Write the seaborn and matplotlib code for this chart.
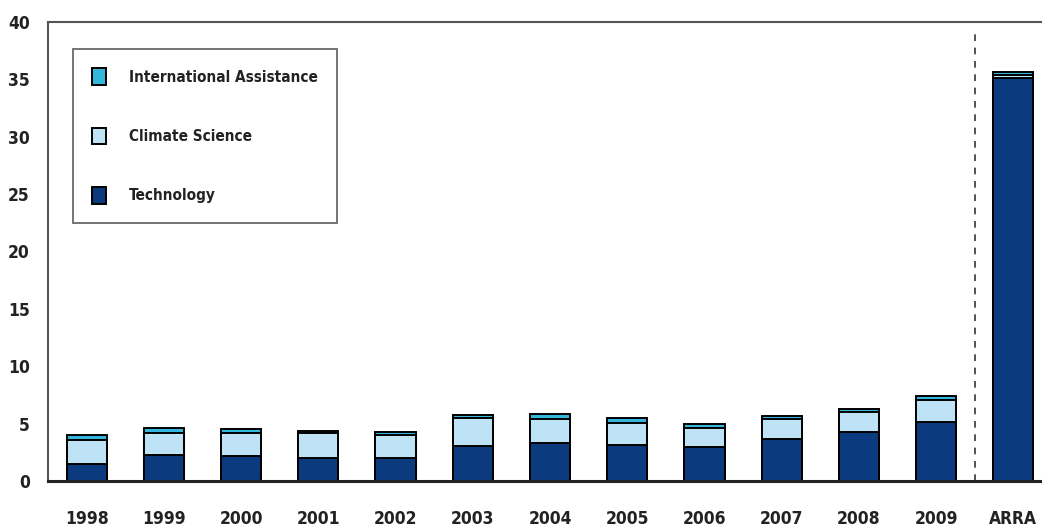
import numpy as np
import pandas as pd
import seaborn as sns
import matplotlib.pyplot as plt

# values (billions of dollars)
years = ["1998", "1999", "2000", "2001", "2002", "2003", "2004",
         "2005", "2006", "2007", "2008", "2009", "ARRA"]
technology = [1.5, 2.25, 2.2, 2.0, 2.0, 3.05, 3.3, 3.15, 2.95, 3.7, 4.3, 5.15, 35.1]
climate_science = [2.05, 1.95, 1.95, 2.15, 2.05, 2.4, 2.1, 1.9, 1.7, 1.7, 1.75, 1.9, 0.25]
international = [0.45, 0.45, 0.35, 0.25, 0.25, 0.3, 0.4, 0.4, 0.35, 0.3, 0.25, 0.35, 0.25]

series = ["Technology", "Climate Science", "International Assistance"]
colors = {"Technology": "#0c3a7e",
          "Climate Science": "#bfe3f6",
          "International Assistance": "#35b6dd"}

df = pd.DataFrame({"year": years,
                   "Technology": technology,
                   "Climate Science": climate_science,
                   "International Assistance": international})
# cumulative tops for stacking
df["c1"] = df["Technology"]
df["c2"] = df["c1"] + df["Climate Science"]
df["c3"] = df["c2"] + df["International Assistance"]

sns.set_style("white")
plt.rcParams['font.family'] = ['DejaVu Sans']

fig = plt.figure(figsize=(10.42, 5.29), dpi=100)
ax = fig.add_axes([48 / 1042, 1 - 481 / 529, 1004 / 1042, 459 / 529])

# draw back to front so each layer covers the lower part of the one behind
for col, name in [("c3", "International Assistance"),
                  ("c2", "Climate Science"),
                  ("c1", "Technology")]:
    sns.barplot(data=df, x="year", y=col, color=colors[name], saturation=1,
                width=0.52, edgecolor="black", linewidth=1.4, ax=ax,
                label=name)

ax.axvline(11.5, ymin=0, ymax=0.98, color="#333333", linestyle=(0, (4, 4)),
           linewidth=1.2)

ax.set_xlim(-0.5, 12.5)
ax.set_ylim(0, 40)
ax.set_yticks(np.arange(0, 41, 5))
ax.set_xlabel("")
ax.set_ylabel("")

fp = dict(family="DejaVu Sans", stretch="condensed", weight="bold", size=12.5)
ax.set_xticks(range(len(years)))
ax.set_xticklabels(years, **fp, color="#222222")
ax.set_yticklabels([str(v) for v in range(0, 41, 5)], **fp, color="#222222")
ax.tick_params(axis="x", length=0, pad=21)
ax.tick_params(axis="y", direction="in", length=12, width=1.5,
               color="#444444", pad=13)

for s in ["left", "top"]:
    ax.spines[s].set_color("#555555")
    ax.spines[s].set_linewidth(1.5)
ax.spines["bottom"].set_color("#222222")
ax.spines["bottom"].set_linewidth(2.2)
ax.spines["right"].set_visible(False)

handles, labels = ax.get_legend_handles_labels()
order = [labels.index(n) for n in ["International Assistance", "Climate Science", "Technology"]]
leg = ax.legend([handles[i] for i in order], [labels[i] for i in order],
                loc="upper left", bbox_to_anchor=(25 / 1004, 1 - 27 / 459),
                frameon=True, fancybox=False, edgecolor="#444444",
                handlelength=0.9, handleheight=1.3, handletextpad=1.5,
                labelspacing=2.8, borderpad=1.25, borderaxespad=0,
                prop=dict(family="DejaVu Sans", stretch="condensed",
                          weight="bold", size=11))
leg.get_frame().set_linewidth(1.3)
for t in leg.get_texts():
    t.set_color("#222222")

fig.savefig("out.png", dpi=100)
